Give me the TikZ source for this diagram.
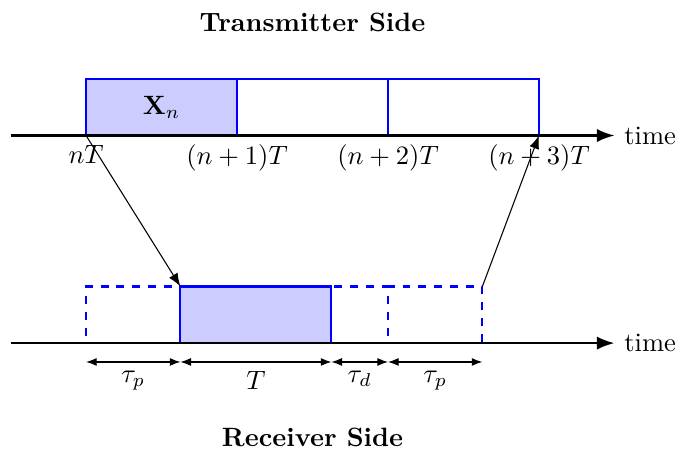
\documentclass[tikz,border=0pt]{standalone}
\usepackage{amsmath,amssymb}
\usetikzlibrary{arrows.meta,positioning,calc}

\begin{document}
\begin{tikzpicture}[x=0.5cm, y=0.5cm,
    slot/.style={draw=blue, thick, minimum width=2cm, minimum height=0.75cm,
        inner sep=0pt, outer sep=0pt, anchor=south west},
    ghost/.style={slot, dashed},
    dimline/.style={{Latex[length=4pt]}-{Latex[length=4pt]}}]
    \useasboundingbox (-2.28,-2.86) rectangle (15.63,9.09);

    % Titles
    \node[font=\bfseries] (ttx) at (6,8.5) {Transmitter Side};
    \node[font=\bfseries] (trx) at (6,-2.5) {Receiver Side};

    % Transmitter slots
    \node[slot, fill=blue!20] (x0) at (0,5.5) {$\mathbf{X}_n$};
    \node[slot] (x1) at (4,5.5) {};
    \node[slot] (x2) at (8,5.5) {};

    % Receiver slots
    \node[ghost] (r0) at (0,0) [minimum width=1.25cm] {};
    \node[slot, fill=blue!20] (r1) at (2.5,0) {};
    \node[ghost] (r2) at (6.5,0) [minimum width=0.75cm] {};
    \node[ghost] (r3) at (8,0) [minimum width=1.25cm] {};

    % Axes
    \draw[thick, -{Latex}] (-2,5.5) -- (14,5.5) node[right] (ttime) {time};
    \draw[thick, -{Latex}] (-2,0) -- (14,0) node[right] (rtime) {time};

    % Tick labels
    \node[below] (l0) at (x0.south west) {$nT$};
    \node[below] (l1) at (x1.south west) {$(n+1)T$};
    \node[below] (l2) at (x2.south west) {$(n+2)T$};
    \node[below] (l3) at (x2.south east) {$(n+3)T$};

    % Propagation arrows
    \draw[-{Latex[length=5pt]}] (x0.south west) -- (r1.north west);
    \draw[-{Latex[length=5pt]}] (r3.north east) -- (x2.south east);

    % Durations
    \coordinate (d0) at (0,-0.5);
    \coordinate (d1) at (2.5,-0.5);
    \coordinate (d2) at (6.5,-0.5);
    \coordinate (d3) at (8,-0.5);
    \coordinate (d4) at (10.5,-0.5);
    \draw[dimline] (d0) -- node[below] (tp1) {$\tau_p$} (d1);
    \draw[dimline] (d1) -- node[below] (tt) {$T$} (d2);
    \draw[dimline] (d2) -- node[below] (td) {$\tau_d$} (d3);
    \draw[dimline] (d3) -- node[below] (tp2) {$\tau_p$} (d4);
\end{tikzpicture}
\end{document}
